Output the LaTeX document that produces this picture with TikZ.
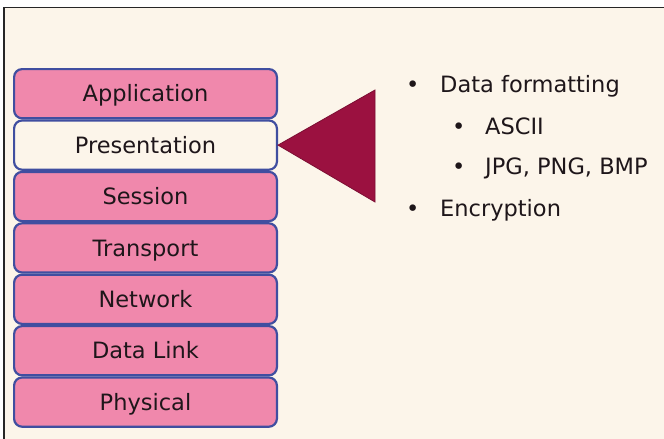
\documentclass[tikz,border=0pt]{standalone}
\usepackage{fontspec}
\setmainfont{DejaVu Sans}
\usetikzlibrary{positioning}

\definecolor{bgcream}{RGB}{252,245,234}
\definecolor{layerpink}{RGB}{240,136,172}
\definecolor{layerblue}{RGB}{64,78,160}
\definecolor{wedgered}{RGB}{155,17,64}
\definecolor{inktext}{RGB}{30,22,26}

\tikzset{
    layer/.style={draw=layerblue, line width=2.2pt, fill=layerpink, rounded corners=8pt,
        minimum width=262.8pt, minimum height=49.2pt, inner sep=0pt,
        text height=17pt, text depth=0.5pt,
        font=\fontsize{22.5}{26}\selectfont, text=inktext},
    current/.style={fill=bgcream},
    item/.style={anchor=base west, inner sep=0pt, font=\fontsize{22.5}{26}\selectfont, text=inktext},
}

\begin{document}
\begin{tikzpicture}[x=1pt, y=-1pt]
    \useasboundingbox (0,0) rectangle (664,439);
    \draw[line width=1.3pt, draw=black!85, fill=bgcream] (4,7.5) rectangle (680,460);

    % the seven layers, top to bottom
    \node[layer] (app) at (145.5,93.7) {Application};
    \node[layer, current, below=0pt of app] (pres) {Presentation};
    \node[layer, below=0pt of pres] (sess) {Session};
    \node[layer, below=0pt of sess] (trans) {Transport};
    \node[layer, below=0pt of trans] (net) {Network};
    \node[layer, below=0pt of net] (link) {Data Link};
    \node[layer, below=0pt of link] (phys) {Physical};

    % wedge pointing at the presentation layer
    \coordinate (wtop) at (375,90);
    \coordinate (wbot) at (375,202);
    \fill[wedgered, draw=wedgered!80!black, line width=0.8pt, line join=miter]
        (pres.east) -- (wtop) -- (wbot) -- cycle;

    % what the layer does
    \node[item] (fmt) at (406,92.7) {\makebox[34pt][l]{•}Data formatting};
    \node[item] (ascii) at (452,134) {\makebox[33pt][l]{•}ASCII};
    \node[item] (img) at (452,174) {\makebox[33pt][l]{•}JPG, PNG, BMP};
    \node[item] (enc) at (406,216) {\makebox[34pt][l]{•}Encryption};
\end{tikzpicture}
\end{document}
